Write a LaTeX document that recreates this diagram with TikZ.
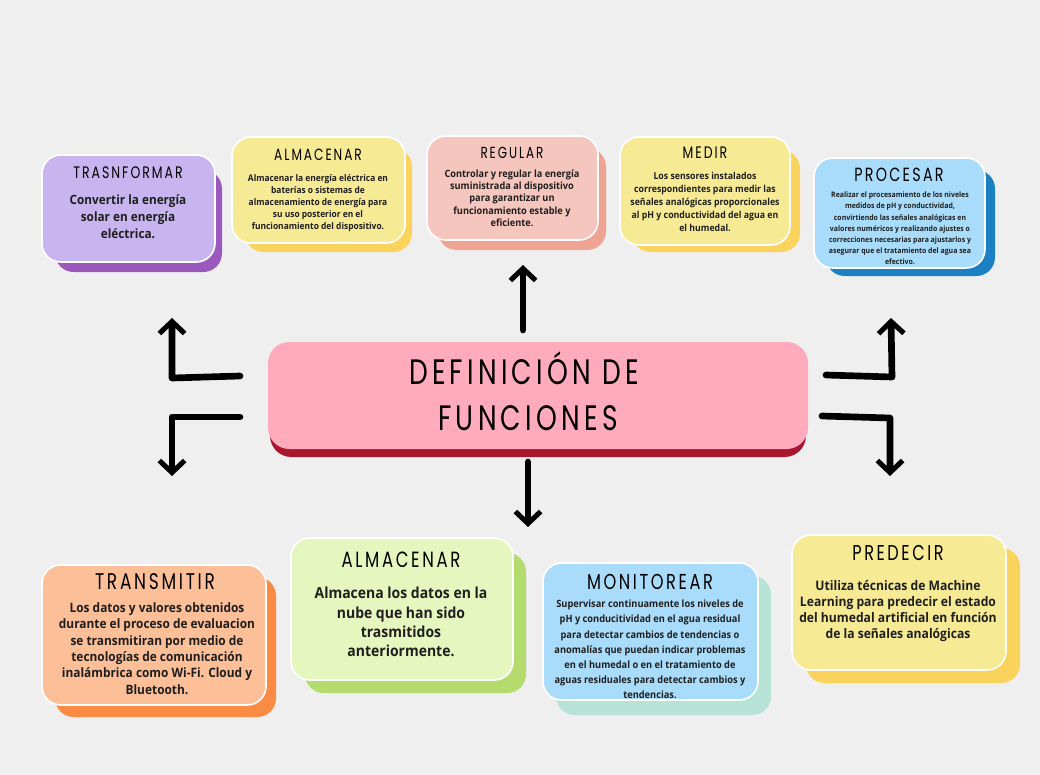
\documentclass[tikz,border=0pt]{standalone}
\usepackage{fontspec}
\setmainfont{Open Sans}[FakeStretch=0.92]
\newfontfamily\titlefont[LetterSpace=12,FakeStretch=0.75]{Poppins}
\newfontfamily\bigtitlefont[LetterSpace=12,FakeStretch=0.75]{Poppins}
\usetikzlibrary{arrows.meta,fit}
\definecolor{bg}{HTML}{EFEFEF}
\definecolor{txt}{HTML}{1E1E1E}
\definecolor{purF}{HTML}{C8B4EE}\definecolor{purS}{HTML}{9B59BE}
\definecolor{yelF}{HTML}{F7EA94}\definecolor{yelS}{HTML}{F9D35C}
\definecolor{salF}{HTML}{F5C6BD}\definecolor{salS}{HTML}{EFA393}
\definecolor{bluF}{HTML}{A9DCFA}\definecolor{bluS}{HTML}{1B80C3}
\definecolor{orgF}{HTML}{FDBF97}\definecolor{orgS}{HTML}{F98B45}
\definecolor{grnF}{HTML}{E5F6BE}\definecolor{grnS}{HTML}{B4DB6E}
\definecolor{mntS}{HTML}{B6E3D5}
\definecolor{pnkF}{HTML}{FFAABD}\definecolor{pnkS}{HTML}{A9172F}
\begin{document}
\begin{tikzpicture}[x=0.75pt,y=-0.75pt,
  card/.style={rounded corners=14pt, draw=white, line width=1.2pt, inner sep=0pt},
  under/.style={rounded corners=14pt},
  ttl/.style={font=\titlefont\fontsize{12.5}{14}\selectfont, text=black, inner sep=0pt},
  bttl/.style={font=\titlefont\fontsize{16.5}{18}\selectfont, text=black, inner sep=0pt},
  body/.style={align=center, text=txt, inner sep=0pt},
  arr/.style={line width=5pt, line join=round, line cap=round,
    -{Straight Barb[length=9pt,width=19pt,line width=3.8pt]}}
]
\useasboundingbox (0,0) rectangle (1040,775);
\fill[bg] (0,0) rectangle (1040,775);

% ---------- TRASNFORMAR
\fill[purS, under] (55,170) rectangle (222,272);
\node[card, fill=purF, fit={(42,155)(215,262)}] (trans) {};
\node[ttl] (transT) at (128,173) {TRASNFORMAR};
\node[body, font=\bfseries\fontsize{9.6}{12.75}\selectfont] (transB) at (128,217)
  {Convertir la energía\\solar en energía\\eléctrica.};

% ---------- ALMACENAR (top)
\fill[yelS, under] (245,148) rectangle (412,252);
\node[card, fill=yelF, fit={(232,137)(405,243)}] (alm1) {};
\node[ttl, font=\titlefont\fontsize{12.2}{14}\selectfont] (alm1T) at (318,155) {ALMACENAR};
\node[body, font=\bfseries\fontsize{6.85}{9}\selectfont] (alm1B) at (318,203)
  {Almacenar la energía eléctrica en\\baterías o sistemas de\\almacenamiento de energía para\\su uso posterior en el\\funcionamiento del dispositivo.};

% ---------- REGULAR
\fill[salS, under] (438,148) rectangle (606,250);
\node[card, fill=salF, fit={(427,136)(598,240)}] (reg) {};
\node[ttl, font=\titlefont\fontsize{12}{14}\selectfont] (regT) at (512,153) {REGULAR};
\node[body, font=\bfseries\fontsize{7.5}{9.2}\selectfont] (regB) at (512,198)
  {Controlar y regular la energía\\suministrada al dispositivo\\para garantizar un\\funcionamiento estable y\\eficiente.};

% ---------- MEDIR
\fill[yelS, under] (632,150) rectangle (800,252);
\node[card, fill=yelF, fit={(620,137)(790,245)}] (med) {};
\node[ttl] (medT) at (705,153) {MEDIR};
\node[body, font=\bfseries\fontsize{7.15}{9.6}\selectfont] (medB) at (705,202)
  {Los sensores instalados\\correspondientes para medir las\\señales analógicas proporcionales\\al pH y conductividad del agua en\\el humedal.};

% ---------- PROCESAR
\fill[bluS, under] (826,170) rectangle (995,276);
\node[card, fill=bluF, fit={(814,158)(985,268)}] (proc) {};
\node[ttl, font=\titlefont\fontsize{14.3}{16}\selectfont] (procT) at (899,175) {PROCESAR};
\node[body, font=\bfseries\fontsize{5.65}{8.4}\selectfont] (procB) at (900,228.5)
  {Realizar el procesamiento de los niveles\\medidos de pH y conductividad,\\convirtiendo las señales analógicas en\\valores numéricos y realizando ajustes o\\correcciones necesarias para ajustarlos y\\asegurar que el tratamiento del agua sea\\efectivo.};

% ---------- TRANSMITIR
\fill[orgS, under] (55,577) rectangle (276,717);
\node[card, fill=orgF, fit={(42,565)(266,705)}] (trm) {};
\node[bttl, font=\titlefont\fontsize{17}{19}\selectfont] (trmT) at (155,582) {TRANSMITIR};
\node[body, font=\bfseries\fontsize{9.7}{12.2}\selectfont] (trmB) at (157,648.5)
  {Los datos y valores obtenidos\\durante el proceso de evaluacion\\se transmitiran por medio de\\tecnologías de comunicación\\inalámbrica como Wi-Fi. Cloud y\\Bluetooth.};

% ---------- ALMACENAR (bottom)
\fill[grnS, under] (305,553) rectangle (526,693);
\node[card, fill=grnF, fit={(291,538)(513,680)}] (alm2) {};
\node[bttl] (alm2T) at (401,560) {ALMACENAR};
\node[body, font=\bfseries\fontsize{11.4}{14.5}\selectfont] (alm2B) at (401,622)
  {Almacena los datos en la\\nube que han sido\\trasmitidos\\anteriormente.};

% ---------- MONITOREAR
\fill[mntS, under] (556,576) rectangle (771,715);
\node[card, fill=bluF, fit={(543,563)(758,700)}] (mon) {};
\node[bttl, font=\titlefont\fontsize{16.2}{18}\selectfont] (monT) at (650,582) {MONITOREAR};
\node[body, font=\bfseries\fontsize{7.55}{11.4}\selectfont] (monB) at (650,649.5)
  {Supervisar continuamente los niveles de\\pH y conducitividad en el agua residual\\para detectar cambios de tendencias o\\anomalías que puedan indicar problemas\\en el humedal o en el tratamiento de\\aguas residuales para detectar cambios y\\tendencias.};

% ---------- PREDECIR
\fill[yelS, under] (806,548) rectangle (1020,683);
\node[card, fill=yelF, fit={(792,535)(1006,670)}] (pre) {};
\node[bttl, font=\titlefont\fontsize{16.1}{18}\selectfont] (preT) at (898,553) {PREDECIR};
\node[body, font=\bfseries\fontsize{9.9}{12}\selectfont] (preB) at (898,611)
  {Utiliza técnicas de Machine\\Learning para predecir el estado\\del humedal artificial en función\\de la señales analógicas};

% ---------- CENTER
\fill[pnkS, rounded corners=16pt] (270,352) rectangle (806,457);
\node[card, draw=none, rounded corners=16pt, fill=pnkF, fit={(268,342)(808,449)}] (core) {};
\node[inner sep=0pt, font=\bigtitlefont\fontsize{26.5}{30}\selectfont] (coreT1) at (524,368) {DEFINICIÓN DE};
\node[inner sep=0pt, font=\bigtitlefont\fontsize{26.5}{30}\selectfont] (coreT2) at (528,418) {FUNCIONES};

% ---------- ARROWS
\coordinate (upS) at (523,330);   \coordinate (upE) at (523,265);
\coordinate (dnS) at (528,462);   \coordinate (dnE) at (528,527);
\coordinate (ltS) at (240,376);   \coordinate (ltC) at (172,378); \coordinate (ltE) at (172,318);
\coordinate (lbS) at (240,417);   \coordinate (lbC) at (172,417); \coordinate (lbE) at (172,476);
\coordinate (rtS) at (826,375);   \coordinate (rtC) at (892,377); \coordinate (rtE) at (891,318);
\coordinate (rbS) at (822,416);   \coordinate (rbC) at (890,418); \coordinate (rbE) at (890,476);
\draw[arr] (upS) -- (upE);
\draw[arr] (dnS) -- (dnE);
\draw[arr] (ltS) -- (ltC) -- (ltE);
\draw[arr] (lbS) -- (lbC) -- (lbE);
\draw[arr] (rtS) -- (rtC) -- (rtE);
\draw[arr] (rbS) -- (rbC) -- (rbE);
\end{tikzpicture}
\end{document}
